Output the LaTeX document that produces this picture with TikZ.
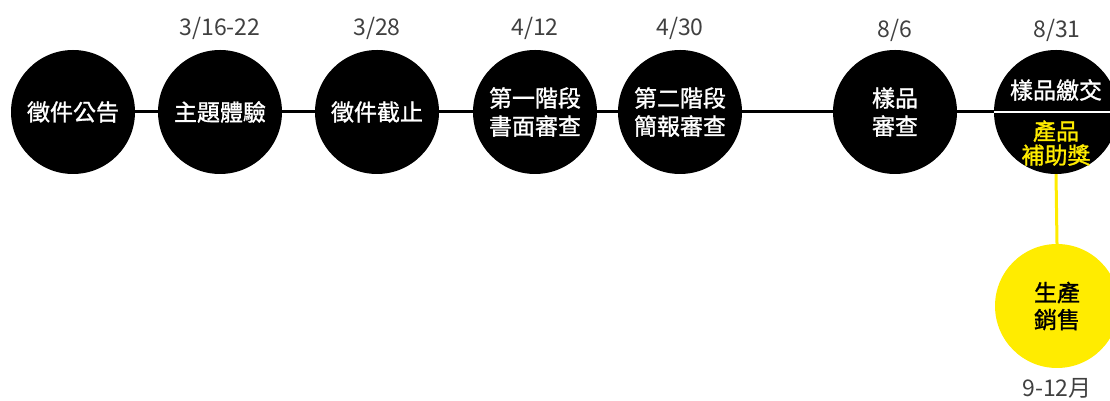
\documentclass[tikz,border=0pt]{standalone}
\usepackage{fontspec}
\setmainfont{Noto Sans CJK TC}
\newfontfamily\cjk{Noto Sans CJK TC}
\newfontfamily\cjkm[FakeBold=1.2]{Noto Sans CJK TC}
\definecolor{ylw}{HTML}{FFEC00}
\definecolor{dategray}{HTML}{404040}
\begin{document}
\begin{tikzpicture}[x=1pt,y=1pt,
  stepc/.style={circle,fill=black,text=white,minimum size=124pt,inner sep=0pt,align=center,font=\cjkm\fontsize{23}{28}\selectfont},
  yc/.style={circle,fill=ylw,text=black,minimum size=124pt,inner sep=0pt,align=center,font=\cjkm\fontsize{23}{27}\selectfont},
  datelbl/.style={text=dategray,font=\cjk\fontsize{23}{26}\selectfont,inner sep=0pt},
  inner/.style={inner sep=0pt,align=center,font=\cjkm\fontsize{23}{24}\selectfont}]
\useasboundingbox (0,0) rectangle (1110,401);
\clip (0,0) rectangle (1110,401);
% circles
\node[stepc] (c1) at (73,289) {徵件公告};
\node[stepc] (c2) at (220,289) {主題體驗};
\node[stepc] (c3) at (377,289) {徵件截止};
\node[stepc] (c4) at (535,289) {第一階段\\書面審查};
\node[stepc] (c5) at (680,289) {第二階段\\簡報審查};
\node[stepc] (c6) at (895,289) {樣品\\審查};
\node[stepc] (c7) at (1056,289) {};
\node[yc] (y1) at (1057,95) {生產\\銷售};
% connectors
\draw[line width=3pt] (c1.east) -- (c2.west);
\draw[line width=3pt] (c2.east) -- (c3.west);
\draw[line width=3pt] (c3.east) -- (c4.west);
\draw[line width=3pt] (c4.east) -- (c5.west);
\draw[line width=3pt] (c5.east) -- (c6.west);
\draw[line width=3pt] (c6.east) -- (c7.west);
\draw[white,line width=2.5pt] (c7.west) -- (c7.east);
\draw[ylw,line width=3pt] (c7.south) -- (y1.north);
% circle 7 texts
\node[inner,text=white] (t7a) at (1056,311) {樣品繳交};
\node[inner,text=ylw] (t7b) at (1056,258) {產品\\補助獎};
% dates
\node[datelbl] (d2) at (220,373) {3/16-22};
\node[datelbl] (d3) at (377,373) {3/28};
\node[datelbl] (d4) at (535,373) {4/12};
\node[datelbl] (d5) at (680,373) {4/30};
\node[datelbl] (d6) at (895,371) {8/6};
\node[datelbl] (d7) at (1057,371) {8/31};
\node[datelbl] (d8) at (1057,13) {9-12月};
\end{tikzpicture}
\end{document}
